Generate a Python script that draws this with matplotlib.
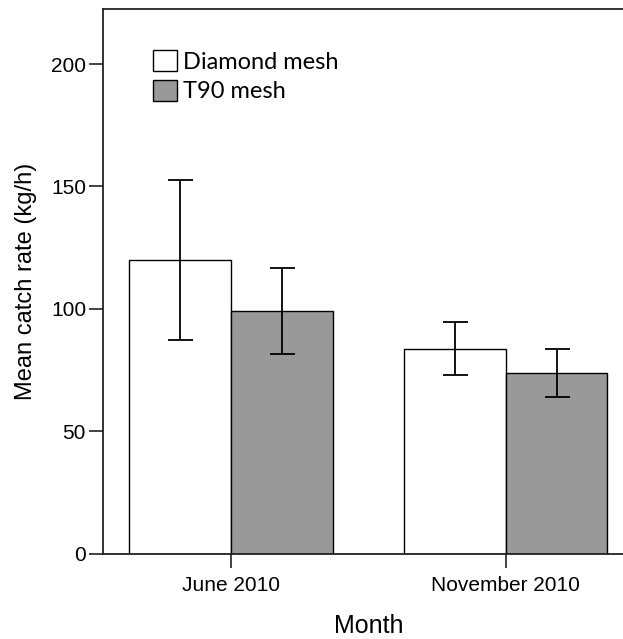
import matplotlib
matplotlib.use("Agg")
import matplotlib.pyplot as plt
import matplotlib.patches as mpatches
import numpy as np

months = ["June 2010", "November 2010"]
diamond_mean = [120.0, 83.7]
diamond_lo = [87.3, 72.9]
diamond_hi = [152.5, 94.6]
t90_mean = [99.0, 73.9]
t90_lo = [81.7, 64.1]
t90_hi = [116.6, 83.5]

plt.rcParams['font.family'] = ['Liberation Sans', 'DejaVu Sans']

fig = plt.figure(figsize=(6.23, 6.39), dpi=100)
ax = fig.add_axes([0.1648, 0.1335, 0.853, 0.852])

x = np.arange(len(months))
w = 0.37

def errs(mean, lo, hi):
    mean = np.array(mean)
    return [mean - np.array(lo), np.array(hi) - mean]

ax.bar(x - w/2, diamond_mean, w, color='white', edgecolor='black', linewidth=1.0)
ax.bar(x + w/2, t90_mean, w, color='#999999', edgecolor='black', linewidth=1.0)
ax.errorbar(x - w/2, diamond_mean, yerr=errs(diamond_mean, diamond_lo, diamond_hi),
            fmt='none', ecolor='black', elinewidth=1.3, capsize=9, capthick=1.3)
ax.errorbar(x + w/2, t90_mean, yerr=errs(t90_mean, t90_lo, t90_hi),
            fmt='none', ecolor='black', elinewidth=1.3, capsize=9, capthick=1.3)

ax.set_xlim(-0.467, 1.467)
ax.set_ylim(0, 222.4)
ax.set_xticks(x)
ax.set_xticklabels(months)
ax.set_yticks([0, 50, 100, 150, 200])
ax.tick_params(axis='both', labelsize=15, length=10, width=1.2, color='#222222')
ax.tick_params(axis='x', pad=6)
ax.tick_params(axis='y', pad=2)
for s in ax.spines.values():
    s.set_linewidth(1.3)
    s.set_color('#222222')

ax.set_xlabel("Month", fontsize=18, labelpad=14)
ax.set_ylabel("Mean catch rate (kg/h)", fontsize=17, labelpad=10)

handles = [mpatches.Patch(facecolor='white', edgecolor='black', linewidth=1.0),
           mpatches.Patch(facecolor='#999999', edgecolor='black', linewidth=1.0)]
leg = ax.legend(handles, ["Diamond mesh", "T90 mesh"], loc='upper left',
                bbox_to_anchor=(153 / 623, 1 - 50 / 639), bbox_transform=fig.transFigure,
                frameon=False, prop={'family': 'Lato', 'size': 17},
                handlelength=1.0, handleheight=1.0, handletextpad=0.25,
                labelspacing=0.3, borderpad=0, borderaxespad=0)

fig.savefig("out.png", dpi=100)
